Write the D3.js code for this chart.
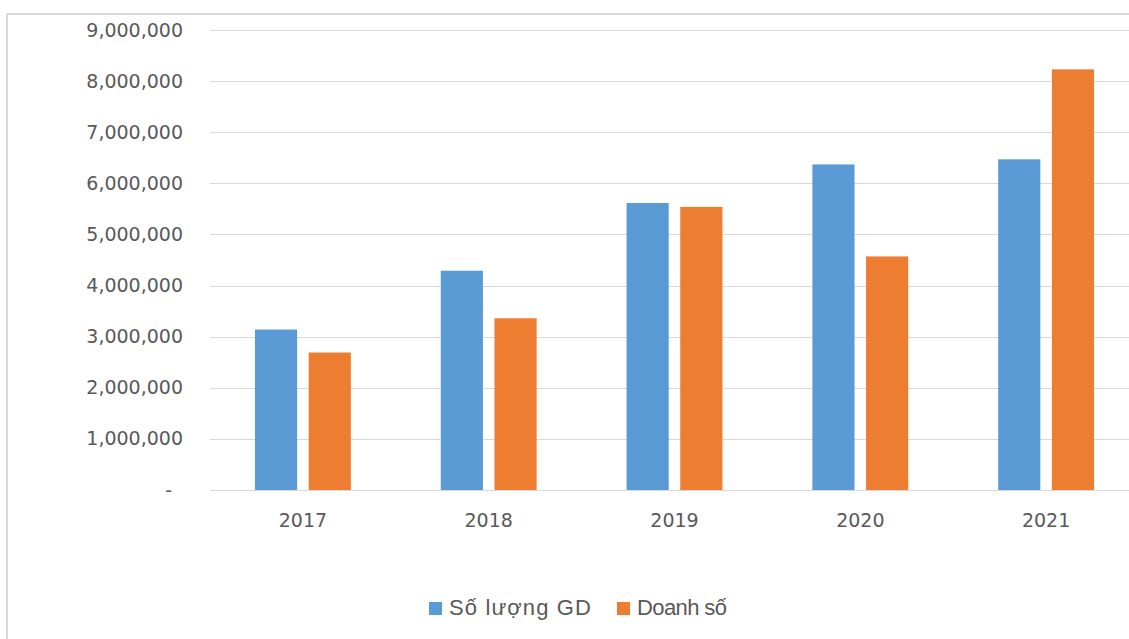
<!DOCTYPE html>
<html>
<head>
<meta charset="utf-8">
<script src="https://cdn.jsdelivr.net/npm/d3@7"></script>
<style>
  html, body { margin: 0; padding: 0; background: #fff; overflow: hidden; }
  svg { display: block; }
</style>
</head>
<body>
<svg id="chart" width="1129" height="639"></svg>
<script>
const categories = ["2017", "2018", "2019", "2020", "2021"];
const seriesNames = ["Số lượng GD", "Doanh số"];
const soLuongGD = [3140000, 4290000, 5615000, 6370000, 6470000];
const doanhSo = [2690000, 3360000, 5540000, 4570000, 8230000];
const yTicks = [0, 1000000, 2000000, 3000000, 4000000, 5000000, 6000000, 7000000, 8000000, 9000000];
const colors = ["#5B9BD5", "#ED7D31"];

const svg = d3.select("#chart");
const W = 1129, H = 639;
const plot = { left: 210, right: 1139, top: 30, bottom: 490 };

// chart frame
svg.append("rect").attr("x", 0).attr("y", 0).attr("width", W).attr("height", H).attr("fill", "#fff");
svg.append("line").attr("x1", 7).attr("x2", W).attr("y1", 14).attr("y2", 14)
  .attr("stroke", "#d9d9d9").attr("stroke-width", 2);
svg.append("line").attr("x1", 7).attr("x2", 7).attr("y1", 13).attr("y2", H)
  .attr("stroke", "#d9d9d9").attr("stroke-width", 2);

const y = d3.scaleLinear().domain([0, 9000000]).range([plot.bottom, plot.top]);
const x = d3.scaleBand().domain(categories).range([plot.left, plot.right]).padding(0);
const step = x.bandwidth();
const barW = step * 0.227;
const gap = step * 0.062;
const groupW = barW * 2 + gap;
const x1 = d3.scaleOrdinal().domain([0, 1]).range([(step - groupW) / 2, (step - groupW) / 2 + barW + gap]);

// gridlines
svg.append("g").selectAll("line").data(yTicks).join("line")
  .attr("x1", plot.left).attr("x2", W)
  .attr("y1", d => Math.round(y(d)) + 0.5).attr("y2", d => Math.round(y(d)) + 0.5)
  .attr("stroke", "#d9d9d9").attr("stroke-width", 1);

// y axis
const fmt = d3.format(",");
const yAxis = d3.axisLeft(y).tickValues(yTicks).tickSize(0).tickPadding(0)
  .tickFormat(d => d === 0 ? "-" : fmt(d));
const gy = svg.append("g").attr("transform", `translate(183,0)`).call(yAxis);
gy.select(".domain").remove();
gy.selectAll("text")
  .attr("font-family", "DejaVu Sans")
  .attr("font-size", "19px")
  .attr("fill", "#595959")
  .attr("dx", d => d === 0 ? -11 : 0);

// x axis
const xAxis = d3.axisBottom(x).tickSize(0).tickPadding(0);
const gx = svg.append("g").attr("transform", `translate(0,${plot.bottom})`).call(xAxis);
gx.select(".domain").remove();
gx.selectAll("text")
  .attr("font-family", "DejaVu Sans")
  .attr("font-size", "19px")
  .attr("fill", "#595959")
  .attr("y", 31)
  .attr("dy", "0.32em");

// bars
const rows = categories.map((c, i) => ({ cat: c, vals: [soLuongGD[i], doanhSo[i]] }));
const groups = svg.append("g").selectAll("g").data(rows).join("g")
  .attr("transform", d => `translate(${x(d.cat)},0)`);
groups.selectAll("rect").data(d => d.vals.map((v, k) => ({ v, k }))).join("rect")
  .attr("x", d => x1(d.k))
  .attr("width", barW)
  .attr("y", d => y(d.v))
  .attr("height", d => y(0) - y(d.v))
  .attr("fill", d => colors[d.k]);

// legend
const legend = svg.append("g");
const legendItems = [
  { name: seriesNames[0], color: colors[0], x: 429, len: 142 },
  { name: seriesNames[1], color: colors[1], x: 617, len: 90 }
];
const li = legend.selectAll("g").data(legendItems).join("g")
  .attr("transform", d => `translate(${d.x},0)`);
li.append("rect").attr("x", 0).attr("y", 602).attr("width", 13).attr("height", 13)
  .attr("fill", d => d.color);
li.append("text").attr("x", 20).attr("y", 615)
  .attr("font-family", "Liberation Sans, Arial, sans-serif")
  .attr("font-size", "22px")
  .attr("fill", "#595959")
  .attr("textLength", d => d.len)
  .attr("lengthAdjust", "spacing")
  .text(d => d.name);
</script>
</body>
</html>
